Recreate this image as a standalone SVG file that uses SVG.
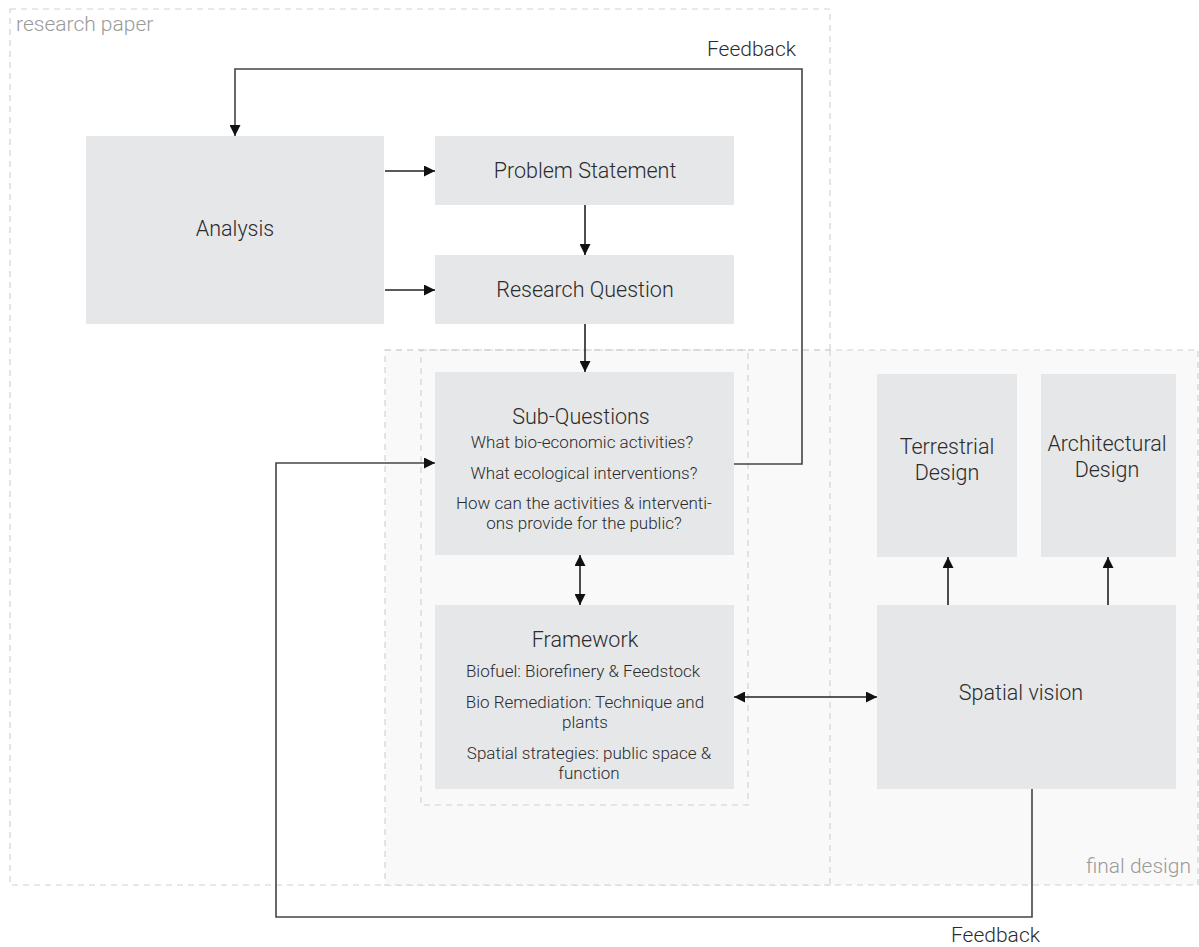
<svg xmlns="http://www.w3.org/2000/svg" width="1199" height="947" viewBox="0 0 1199 947">
  <defs>
    <marker id="arrowL" viewBox="0 0 10 10" refX="10" refY="5" markerWidth="11" markerHeight="11" markerUnits="userSpaceOnUse" orient="auto-start-reverse">
      <path d="M0,0 L10,5 L0,10 z" fill="#111"/>
    </marker>
  </defs>
  <style>
    text { font-family: Roboto, "Liberation Sans", sans-serif; font-weight: 300; fill: #2b2b2b; }
    .zone { stroke: #d2d2d2; stroke-width: 1.2; stroke-dasharray: 6 5; }
    .zlabel { fill: #9a9a9a; font-size: 21px; }
    .box { fill: #e6e7e9; }
    .t { font-size: 21.5px; text-anchor: middle; dominant-baseline: central; }
    .h { font-size: 21.5px; text-anchor: middle; dominant-baseline: central; }
    .s { font-size: 17px; text-anchor: middle; dominant-baseline: central; }
    .edge { fill: none; stroke: #222; stroke-width: 1.6; marker-end: url(#arrowL); }
    .fb { fill: none; stroke: #444; stroke-width: 1.6; }
    .fbl { font-size: 21px; fill: #2b2b2b; }
  </style>

  <!-- zones -->
  <g id="zone-research">
    <rect x="10" y="9" width="820" height="876" fill="#ffffff" class="zone"/>
    <text class="zlabel" x="16" y="31">research paper</text>
  </g>
  <g id="zone-final">
    <rect x="385" y="350" width="813" height="535" fill="#f9f9f9" class="zone"/>
    <line x1="385" y1="350" x2="830" y2="350" class="zone"/>
    <line x1="830" y1="350" x2="830" y2="885" class="zone"/>
    <text class="zlabel" x="1191" y="873" text-anchor="end">final design</text>
  </g>
  <g id="zone-questions">
    <rect x="421" y="350" width="327" height="455" fill="none" class="zone"/>
  </g>

  <!-- nodes -->
  <g id="analysis">
    <rect class="box" x="86" y="136" width="298" height="188"/>
    <text class="t" x="235" y="228">Analysis</text>
  </g>
  <g id="problem-statement">
    <rect class="box" x="435" y="136" width="299" height="69"/>
    <text class="t" x="585" y="170">Problem Statement</text>
  </g>
  <g id="research-question">
    <rect class="box" x="435" y="255" width="299" height="69"/>
    <text class="t" x="585" y="289">Research Question</text>
  </g>
  <g id="sub-questions">
    <rect class="box" x="435" y="372" width="299" height="183"/>
    <text class="h" x="581" y="416">Sub-Questions</text>
    <text class="s" x="582" y="442">What bio-economic activities?</text>
    <text class="s" x="584" y="473">What ecological interventions?</text>
    <text class="s" x="584" y="503">How can the activities &amp; interventi-</text>
    <text class="s" x="584" y="523">ons provide for the public?</text>
  </g>
  <g id="framework">
    <rect class="box" x="435" y="605" width="299" height="184"/>
    <text class="h" x="585" y="639">Framework</text>
    <text class="s" x="583" y="671">Biofuel: Biorefinery &amp; Feedstock</text>
    <text class="s" x="585" y="702">Bio Remediation: Technique and</text>
    <text class="s" x="585" y="722">plants</text>
    <text class="s" x="589" y="753">Spatial strategies: public space &amp;</text>
    <text class="s" x="589" y="773">function</text>
  </g>
  <g id="terrestrial-design">
    <rect class="box" x="877" y="374" width="140" height="183"/>
    <text class="t" x="947" y="446">Terrestrial</text>
    <text class="t" x="947" y="472">Design</text>
  </g>
  <g id="architectural-design">
    <rect class="box" x="1041" y="374" width="135" height="183"/>
    <text class="t" x="1107" y="443">Architectural</text>
    <text class="t" x="1107" y="469">Design</text>
  </g>
  <g id="spatial-vision">
    <rect class="box" x="877" y="605" width="299" height="184"/>
    <text class="t" x="1021" y="692">Spatial vision</text>
  </g>

  <!-- connectors -->
  <g id="connectors">
    <path class="edge" d="M385,171 H435"/>
    <path class="edge" d="M385,290 H435"/>
    <path class="edge" d="M585,205 V255"/>
    <path class="edge" d="M585,324 V372"/>
    <path class="edge" d="M580,555 V605" marker-start="url(#arrowL)"/>
    <path class="edge" d="M734,697 H877" marker-start="url(#arrowL)"/>
    <path class="edge" d="M948,605 V557"/>
    <path class="edge" d="M1108,605 V557"/>
    <!-- feedback loops -->
    <path class="fb" d="M734,464 H802 V69 H235 V136" marker-end="url(#arrowL)"/>
    <text class="fbl" x="796" y="56" text-anchor="end">Feedback</text>
    <path class="fb" d="M1032,789 V917 H276 V463 H435" marker-end="url(#arrowL)"/>
    <text class="fbl" x="1040" y="942" text-anchor="end">Feedback</text>
  </g>
</svg>
